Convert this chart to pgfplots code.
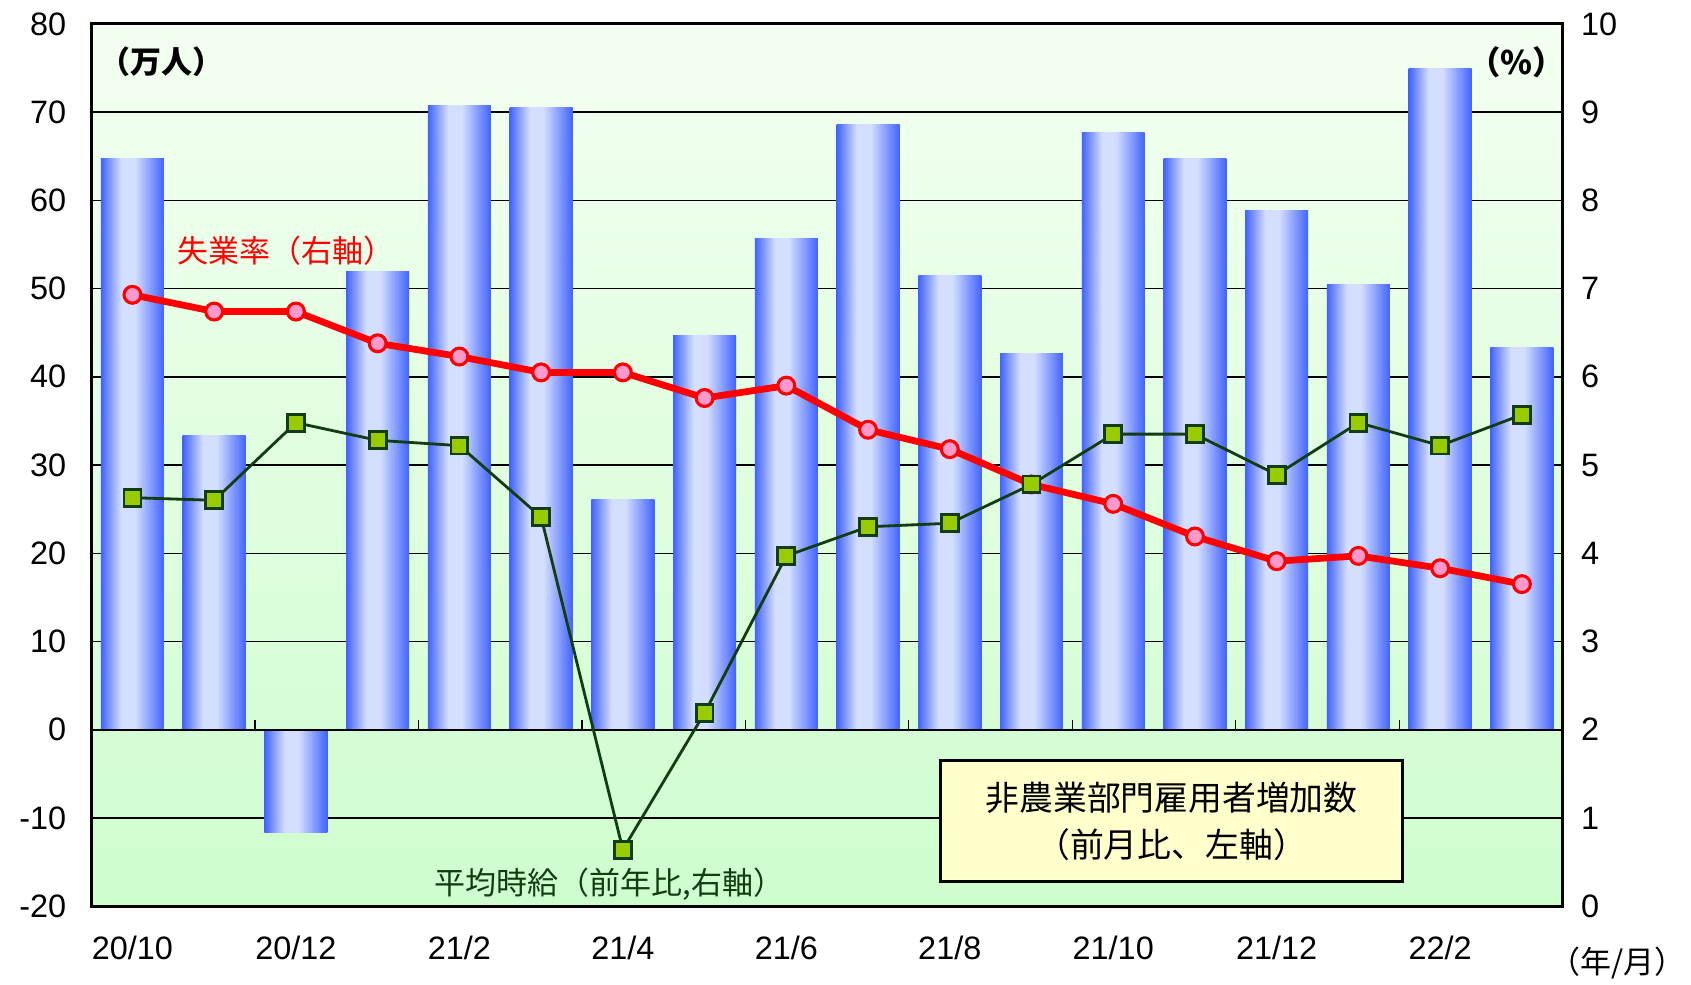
\documentclass[border=0pt]{standalone}
\usepackage{fontspec}
\setmainfont{Liberation Sans}
\newfontfamily\jp{Noto Sans CJK JP}
\usepackage{pgfplots}
\usepackage{pgfplotstable}
\pgfplotsset{compat=1.18}

\definecolor{barblue}{HTML}{4163FF}
\definecolor{barlight}{HTML}{D4DEFF}
\definecolor{bgtop}{HTML}{F3FFF1}
\definecolor{bgbot}{HTML}{CEFDCE}
\definecolor{urate}{HTML}{FF0000}
\definecolor{upink}{HTML}{FF99CC}
\definecolor{wline}{HTML}{123D12}
\definecolor{wfill}{HTML}{99CC00}
\definecolor{boxfill}{HTML}{FFFFCC}

\pgfdeclarehorizontalshading{barshade}{100bp}{color(0bp)=(barblue); color(25bp)=(barblue); color(41bp)=(barlight); color(52bp)=(barlight); color(75bp)=(barblue); color(100bp)=(barblue)}

% x: month index from 2020/10
\pgfplotstableread{
x  nfp    urate  wage
0  64.7   6.93   4.63
1  33.4   6.74   4.60
2  -11.7  6.74   5.48
3  51.9   6.38   5.28
4  70.8   6.23   5.22
5  70.5   6.05   4.41
6  26.1   6.05   0.64
7  44.7   5.76   2.19
8  55.7   5.90   3.97
9  68.6   5.40   4.30
10 51.5   5.18   4.34
11 42.6   4.78   4.78
12 67.7   4.56   5.35
13 64.7   4.19   5.35
14 58.9   3.91   4.89
15 50.5   3.97   5.48
16 74.9   3.83   5.22
17 43.3   3.65   5.57
}\data

\begin{document}
\begin{tikzpicture}
\begin{axis}[
    at={(0,0)}, anchor=south west,
    scale only axis, width=522pt, height=313pt,
    xmin=-0.5, xmax=17.5, ymin=-20, ymax=80,
    ytick={-20,-10,...,80},
    xtick={0,2,...,16},
    xticklabels={20/10,20/12,21/2,21/4,21/6,21/8,21/10,21/12,22/2},
    major tick length=0pt,
    ymajorgrids, grid style={black, line width=0.5pt},
    axis line style={line width=1.1pt},
    axis background/.style={shade, top color=bgtop, bottom color=bgbot},
    tick label style={font=\fontsize{11.5}{13}\selectfont},
    /pgf/number format/assume math mode=true,
    yticklabel style={xshift=-5.5pt},
    xticklabel style={yshift=-7pt},
    ybar, bar width=0.77,
]
% one plot per month so that each bar gets its own shading
\pgfplotsinvokeforeach{0,...,17}{
  \addplot[draw=none, shading=barshade, bar shift=0pt,
    x filter/.expression={abs(x-#1)<0.3 ? x : nan}] table[x=x, y=nfp]{\data};
}
\draw[line width=0.6pt] (axis cs:-0.5,0) -- (axis cs:17.5,0);
\pgfplotsinvokeforeach{1.5,3.5,5.5,7.5,9.5,11.5,13.5,15.5}{
  \draw[line width=0.4pt] (axis cs:#1,0) -- ([yshift=3.5pt]axis cs:#1,0);
}
\end{axis}
\begin{axis}[
    at={(0,0)}, anchor=south west,
    scale only axis, width=522pt, height=313pt,
    xmin=-0.5, xmax=17.5, ymin=0, ymax=10,
    ytick={0,1,...,10},
    axis y line*=right, axis x line=none,
    axis line style={line width=1.1pt},
    major tick length=0pt,
    tick label style={font=\fontsize{11.5}{13}\selectfont},
    /pgf/number format/assume math mode=true,
    yticklabel style={xshift=3pt},
    clip=false,
]
\addplot[urate, line width=2.4pt, mark=*, mark size=3pt,
  mark options={fill=upink, draw=urate, line width=1.1pt}]
  table[x=x, y=urate]{\data};
\addplot[wline, line width=1pt, mark=square*, mark size=3pt,
  mark options={fill=wfill, draw=wline, line width=1pt}]
  table[x=x, y=wage]{\data};
\end{axis}

\node[font=\jp\bfseries\fontsize{11}{13}\selectfont] at (24.9pt,299.6pt) {（万人）};
\node[font=\jp\bfseries\fontsize{11.5}{13}\selectfont] at (505.6pt,299.6pt) {（\%）};
\node[font=\jp\fontsize{11}{13}\selectfont, text=urate] at (69pt,232.7pt) {失業率（右軸）};
\node[font=\jp\fontsize{11}{13}\selectfont, text=wline] at (183.7pt,7.7pt) {平均時給（前年比,右軸）};
\node[font=\jp\fontsize{12}{16.5}\selectfont, draw=black, line width=1.1pt,
  fill=boxfill, minimum width=164pt, minimum height=43pt, align=center,
  inner sep=2pt] at (383.2pt,30.1pt) {非農業部門雇用者増加数\\（前月比、左軸）};
\node[font=\jp\fontsize{11}{13}\selectfont] at (541.3pt,-20.3pt) {（年/月）};

\pgfresetboundingbox
\useasboundingbox (-32.5pt,-27.7pt) rectangle (567.5pt,321.5pt);
\end{tikzpicture}
\end{document}
